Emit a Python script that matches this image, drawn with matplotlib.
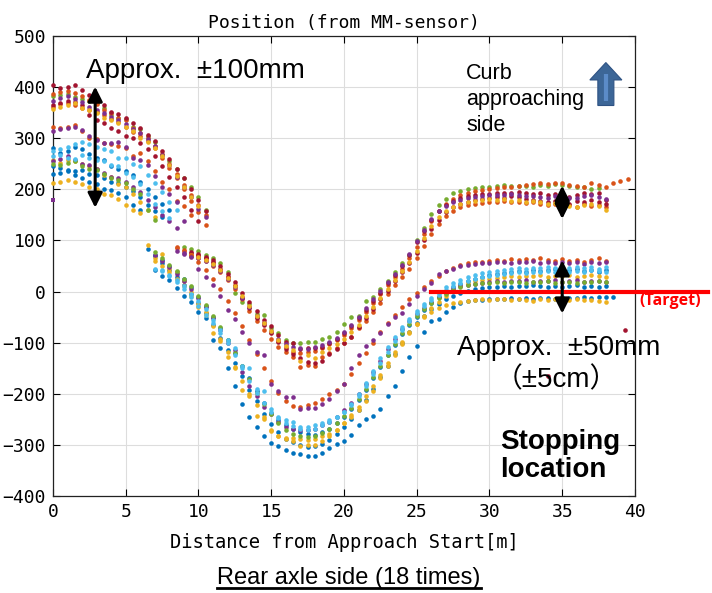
import matplotlib
matplotlib.use("Agg")
import matplotlib.pyplot as plt
import matplotlib.patches as mpatches
from matplotlib.lines import Line2D
import numpy as np

# MATLAB default colour order
BLUE = '#0072BD'
ORANGE = '#D95319'
YELLOW = '#EDB120'
PURPLE = '#7E2F8E'
GREEN = '#77AC30'
CYAN = '#4DBEEE'
DARKRED = '#A2142F'

STEP = 0.5  # sampling step along the approach [m]

# ---- runs ending on the curb side (upper group) ----
# segment a starts at 0 m, segment b starts at the given distance
green_u_a = [382, 384, 386, 380, 376, 372, 368, 360, 345, 340, 338, 322, 318, 305, 292, 268, 255, 240, 222, 205, 185, 160]
green_u_b0 = 9.0
green_u_b = [88, 84, 80, 72, 66, 55, 38, -2, -21, -24, -43, -45, -72, -82, -95, -100, -100, -98, -98, -92,
             -88, -80, -63, -50, -47, -18, -10, 5, 20, 38, 55, 72, 100, 124, 151, 170, 182, 192, 197, 200,
             202, 204, 205, 206, 208, 207, 206, 207, 205, 208, 207, 210, 209, 207, 205, 204, 200, 202]

orange_u1_a = [386, 390, 392, 388, 382, 374, 366, 355, 350, 340, 336, 320, 310, 300, 285, 270, 250, 230, 208, 188, 170, 150]
orange_u1_b0 = 8.5
orange_u1_b = [85, 80, 76, 72, 65, 55, 42, 28, 12, -10, -30, -50, -62, -80, -96, -108, -118, -120, -118, -116,
               -110, -103, -95, -85, -72, -56, -40, -22, -5, 12, 28, 45, 65, 88, 112, 138, 158, 172, 182, 188,
               192, 196, 198, 200, 202, 204, 205, 207, 208, 210, 212, 211, 213, 212, 208, 207, 205, 212, 208, 205,
               213, 216, 220]

orange_u2_a = [362, 366, 368, 365, 360, 356, 352, 345, 338, 332, 322, 312, 304, 295, 280, 262, 242, 222, 200, 178, 155, 130]
orange_u2_b0 = 9.5
orange_u2_b = [70, 66, 60, 50, 38, 22, 5, -15, -38, -58, -75, -92, -108, -118, -128, -148, -143, -145, -129, -120,
               -110, -100, -88, -72, -58, -40, -22, -5, 12, 28, 45, 65, 90, 112, 132, 148, 158, 165, 170, 172,
               174, 175, 176, 178, 176, 175, 174, 176, 172, 170, 172, 168, 170, 166, 172, 168, 170, 165]

darkred_u1_a = [405, 398, 400, 404, 395, 385, 378, 365, 352, 348, 340, 330, 320, 306, 294, 275, 260, 240, 222, 200, 180, 158]
darkred_u1_b0 = 9.5
darkred_u1_b = [78, 74, 68, 62, 50, 34, 18, -2, -20, -38, -55, -68, -85, -98, -100, -112, -110, -110, -108, -100,
                -92, -82, -68, -52, -36, -18, -2, 16, 32, 50, 72, 96, 118, 140, 158, 170, 178, 184, 186, 188,
                190, 191, 192, 193, 192, 194, 192, 190, 192, 188, 190, 186, 185, 188, 192, 190, 193, 180]

darkred_u2_a = [365, 368, 372, 370, 365, 345, 335, 330, 320, 315, 305, 300, 290, 278, 265, 245, 225, 205, 185, 160, 139]
darkred_u2_b0 = 10.0
darkred_u2_b = [70, 66, 58, 44, 28, 10, -12, -32, -52, -66, -82, -98, -112, -122, -130, -138, -140, -135, -122, -112,
                -100, -88, -70, -52, -35, -15, 2, 20, 38, 55, 75, 100, 122, 140, 155, 165, 172, 176, 180, 182,
                184, 185, 184, 186, 185, 182, 180, 178, 176, 178, 175, 172, 178, 175, 180, 176, 172]

purple_u_a = [372, 378, 382, 376, 370, 362, 355, 350, 342, 335, 328, 318, 310, 298, 284, 268, 248, 225, 205, 185, 162, 145]
purple_u_b0 = 9.0
purple_u_b = [74, 70, 66, 60, 52, 40, 24, 8, -12, -30, -48, -62, -78, -92, -102, -108, -110, -112, -108, -104,
              -98, -90, -80, -66, -50, -32, -15, 2, 18, 34, 52, 74, 98, 120, 142, 158, 168, 176, 180, 183,
              185, 186, 188, 189, 188, 190, 188, 186, 187, 185, 184, 186, 182, 184, 183, 186, 188, 185, 182]

yellow_u_a = [358, 362, 365, 368, 360, 356, 350, 340, 335, 330, 322, 315, 300, 292, 280, 265, 248, 226, 205, 185, 168]
yellow_u_b0 = 9.5
yellow_u_b = [72, 68, 62, 54, 42, 26, 10, -8, -28, -48, -62, -78, -95, -106, -115, -135, -125, -130, -118, -110,
              -102, -92, -80, -65, -48, -30, -12, 5, 22, 40, 58, 80, 105, 128, 146, 158, 166, 172, 175, 178,
              180, 182, 180, 182, 178, 180, 176, 178, 175, 172, 174, 170, 168, 165, 170, 172, 168, 160]

# ---- runs ending near the target line (lower group) ----
blue_1_a = [280, 272, 275, 282, 278, 270, 262, 258, 245, 240, 235, 228, 215, 200, 185, 172, 160]
blue_1_b0 = 6.5
blue_1_b = [84, 72, 62, 50, 38, 24, 8, -10, -28, -50, -72, -95, -120, -145, -170, -195, -218, -238, -252, -262,
            -268, -275, -278, -280, -275, -268, -258, -245, -230, -212, -192, -170, -148, -125, -104, -84, -66, -50, -36, -22,
            -10, 0, 8, 15, 20, 25, 28, 32, 35, 36, 38, 40, 38, 42, 40, 42, 44, 40, 42, 45,
            40, 42, 38, 42]

blue_2_a = [245, 242, 238, 235, 238, 230, 228, 222, 215, 212, 205, 196, 185, 170, 158, 145]
blue_2_b0 = 7.0
blue_2_b = [70, 55, 42, 28, 12, -5, -22, -42, -65, -90, -115, -140, -165, -192, -215, -240, -260, -275, -288, -295,
            -300, -305, -303, -298, -290, -278, -265, -250, -232, -212, -190, -168, -145, -122, -100, -80, -62, -48, -35, -24,
            -15, -8, -2, 2, 5, 6, 8, 9, 10, 9, 11, 10, 12, 10, 8, 11, 9, 10, 12, 8,
            10, 9, 11]

blue_3_a = [230, 232, 235, 228, 222, 215, 210, 200, 198, 192, 185, 170, 160]
blue_3_b0 = 7.0
blue_3_b = [42, 30, 22, 6, -8, -21, -40, -51, -94, -110, -150, -184, -221, -246, -266, -282, -296, -302, -311, -315,
            -318, -321, -321, -315, -307, -298, -292, -280, -262, -250, -243, -230, -205, -184, -155, -129, -106, -80, -57, -53,
            -40, -31, -22, -18, -17, -16, -15, -14, -15, -13, -14, -12, -15, -13, -12, -14, -11, -13, -12, -10,
            -12, -11, -10, -10]

orange_l_a = [322, 320, 322, 325, 315, 300, 298, 290, 288, 285, 280, 266, 272, 255, 235, 215, 200, 178, 168, 150]
orange_l_b0 = 8.5
orange_l_b = [88, 82, 72, 58, 42, 25, 5, -18, -42, -68, -95, -122, -150, -175, -198, -215, -224, -225, -222, -218,
              -210, -200, -192, -180, -162, -140, -120, -100, -80, -62, -45, -30, -15, -2, 8, 20, 30, 40, 47, 52,
              55, 57, 58, 60, 62, 60, 63, 62, 64, 61, 65, 62, 60, 64, 60, 62, 58, 62, 66, 60]

yellow_1_a = [258, 252, 258, 255, 250, 245, 240, 228, 225, 210, 205, 190, 175, 160, 145]
yellow_1_b0 = 6.5
yellow_1_b = [92, 65, 74, 45, 38, 20, 0, -31, -40, -82, -96, -129, -150, -192, -205, -243, -250, -270, -282, -287,
              -287, -288, -290, -288, -283, -278, -270, -258, -245, -232, -215, -195, -170, -146, -124, -102, -82, -64, -48, -33,
              -20, -8, 2, 10, 16, 20, 23, 25, 27, 28, 30, 29, 31, 30, 32, 29, 31, 30, 32, 28,
              30, 33, 30, 28]

yellow_2_a = [212, 215, 218, 215, 210, 205, 200, 190, 188, 182, 170, 160, 153]
yellow_2_b0 = 7.0
yellow_2_b = [60, 50, 38, 25, 10, -8, -25, -45, -68, -92, -118, -148, -175, -200, -222, -245, -272, -282, -288, -292,
              -302, -300, -300, -292, -282, -270, -258, -242, -225, -205, -185, -163, -140, -118, -98, -80, -64, -50, -40, -32,
              -26, -22, -20, -18, -16, -15, -16, -14, -15, -17, -14, -16, -18, -15, -16, -14, -18, -16, -15, -17,
              -16, -18, -20]

purple_1_a = [315, 318, 320, 322, 316, 305, 296, 290, 290, 292, 282, 262, 258, 247, 227, 204, 190, 175, 139]
purple_1_b0 = 8.5
purple_1_b = [80, 76, 68, 45, 28, 12, -8, -37, -53, -80, -100, -119, -125, -180, -195, -207, -207, -229, -227, -227,
              -220, -210, -195, -180, -150, -125, -106, -95, -82, -63, -50, -41, -25, -8, 5, 16, 35, 40, 45, 50,
              52, 54, 55, 56, 57, 58, 56, 58, 57, 59, 56, 58, 55, 57, 56, 58, 54, 57, 55, 58]

purple_2_a = [255, 260, 265, 258, 250, 248, 240, 232, 225, 222, 215, 205, 195, 180, 165, 150, 138, 125]
purple_2_b0 = 7.0
purple_2_b = [72, 60, 48, 35, 20, 5, -12, -30, -52, -75, -100, -115, -158, -185, -205, -225, -240, -255, -265, -268,
              -270, -270, -268, -262, -255, -245, -232, -218, -200, -180, -158, -135, -112, -92, -74, -58, -44, -32, -20, -10,
              -2, 5, 10, 13, 15, 17, 18, 20, 19, 21, 20, 22, 19, 21, 20, 22, 18, 20, 22, 19,
              21, 20, 18]

green_l_a = [250, 248, 252, 255, 245, 240, 238, 230, 222, 218, 212, 200, 190, 160, 140]
green_l_b0 = 7.0
green_l_b = [78, 66, 52, 40, 25, 10, -8, -26, -48, -70, -95, -120, -146, -172, -198, -220, -240, -258, -270, -278,
             -283, -285, -282, -276, -268, -257, -244, -228, -210, -190, -168, -146, -124, -102, -82, -64, -48, -34, -22, -12,
             -4, 3, 8, 12, 14, 16, 17, 18, 16, 19, 18, 17, 19, 18, 20, 17, 19, 18, 16, 19,
             18, 20, 18]

cyan_1_a = [275, 278, 283, 288, 292, 288, 282, 278, 275, 262, 262, 250, 245, 228, 212, 195, 175, 160]
cyan_1_b0 = 7.0
cyan_1_b = [45, 40, 32, 22, 10, -4, -18, -35, -55, -75, -95, -110, -145, -150, -190, -195, -230, -245, -252, -255,
            -265, -265, -262, -258, -252, -245, -235, -220, -200, -178, -155, -130, -108, -88, -70, -53, -38, -24, -12, -2,
            8, 16, 22, 28, 32, 36, 39, 41, 43, 44, 46, 45, 47, 46, 48, 47, 49, 46, 48, 47,
            49, 45, 48]

cyan_2_a = [265, 268, 262, 260, 268, 262, 258, 255, 248, 245, 232, 225, 210, 190, 172, 158, 143]
cyan_2_b0 = 7.5
cyan_2_b = [42, 30, 18, 5, -10, -28, -45, -62, -82, -100, -125, -150, -175, -198, -218, -235, -248, -258, -264, -268,
            -270, -268, -262, -255, -246, -236, -222, -205, -185, -162, -140, -118, -96, -76, -58, -42, -28, -16, -6, 3,
            10, 16, 21, 25, 28, 31, 33, 35, 36, 38, 37, 39, 38, 40, 38, 41, 39, 40, 38, 42,
            40, 39]

# stray samples
stray_x = [39.3, 34.0]
stray_y = [-75, -166]
square_x = [0.0]
square_y = [180]

runs = [
    (GREEN, green_u_a, green_u_b0, green_u_b),
    (ORANGE, orange_u1_a, orange_u1_b0, orange_u1_b),
    (ORANGE, orange_u2_a, orange_u2_b0, orange_u2_b),
    (DARKRED, darkred_u1_a, darkred_u1_b0, darkred_u1_b),
    (DARKRED, darkred_u2_a, darkred_u2_b0, darkred_u2_b),
    (PURPLE, purple_u_a, purple_u_b0, purple_u_b),
    (YELLOW, yellow_u_a, yellow_u_b0, yellow_u_b),
    (BLUE, blue_1_a, blue_1_b0, blue_1_b),
    (BLUE, blue_2_a, blue_2_b0, blue_2_b),
    (BLUE, blue_3_a, blue_3_b0, blue_3_b),
    (ORANGE, orange_l_a, orange_l_b0, orange_l_b),
    (YELLOW, yellow_1_a, yellow_1_b0, yellow_1_b),
    (YELLOW, yellow_2_a, yellow_2_b0, yellow_2_b),
    (PURPLE, purple_1_a, purple_1_b0, purple_1_b),
    (PURPLE, purple_2_a, purple_2_b0, purple_2_b),
    (GREEN, green_l_a, green_l_b0, green_l_b),
    (CYAN, cyan_1_a, cyan_1_b0, cyan_1_b),
    (CYAN, cyan_2_a, cyan_2_b0, cyan_2_b),
]

MONO = 'DejaVu Sans Mono'
SANS = 'Liberation Sans'

fig = plt.figure(figsize=(7.12, 5.93), dpi=100)
ax = fig.add_axes([0.0744, 0.1636, 0.8174, 0.7757])

dot = dict(linestyle='none', marker='o', markersize=3.3, markeredgewidth=0, clip_on=False, zorder=3)
for color, ya, xb0, yb in runs:
    xa = np.arange(len(ya)) * STEP
    xb = xb0 + np.arange(len(yb)) * STEP
    ax.plot(xa, ya, color=color, **dot)
    ax.plot(xb, yb, color=color, **dot)
ax.plot(stray_x, stray_y, color=DARKRED, **dot)
ax.plot(square_x, square_y, color=PURPLE, linestyle='none', marker='s',
        markersize=3.5, markeredgewidth=0, clip_on=False, zorder=3)

ax.set_xlim(0, 40)
ax.set_ylim(-400, 500)
ax.set_xticks(np.arange(0, 41, 5))
ax.set_yticks(np.arange(-400, 501, 100))
ax.grid(True, color='#DDDDDD', linewidth=0.8)
ax.set_axisbelow(True)
ax.tick_params(direction='in', top=True, right=True, length=5, width=0.8,
               labelsize=13, pad=5)
for lab in ax.get_xticklabels() + ax.get_yticklabels():
    lab.set_fontfamily(MONO)
for sp in ax.spines.values():
    sp.set_linewidth(0.9)
    sp.set_color('#222222')

ax.set_title('Position (from MM-sensor)', fontfamily=MONO, fontsize=13, pad=6)
ax.set_xlabel('Distance from Approach Start[m]', fontfamily=MONO, fontsize=13.5, labelpad=9)

# target line
ax.plot([26, 45], [0, 0], color='#FF0000', linewidth=3, clip_on=False, zorder=4)
fig.text(0.898, 0.492, '(Target)', color='#FF0000', fontsize=11.5, fontweight='bold',
         fontfamily='Open Sans', va='center', ha='left')

# spread arrows
arrow = dict(arrowstyle='<|-|>', color='black', lw=2.2, mutation_scale=22, shrinkA=0, shrinkB=0)
ax.annotate('', xy=(2.9, 164), xytext=(2.9, 401), arrowprops=arrow, zorder=5)
ax.annotate('', xy=(35, 142), xytext=(35, 207), arrowprops=arrow, zorder=5)
ax.annotate('', xy=(35, -43), xytext=(35, 61), arrowprops=arrow, zorder=5)

ax.text(2.3, 432, 'Approx.  \u00b1100mm', fontfamily=SANS, fontsize=20, va='center', ha='left', zorder=6)
ax.text(27.8, -111, 'Approx.  \u00b150mm', fontfamily=SANS, fontsize=20, va='center', ha='left',
        clip_on=False, zorder=6)
ax.text(34.6, -174, '\uff08\u00b15cm\uff09', fontfamily=[SANS, 'Noto Sans CJK JP'], fontsize=20,
        va='center', ha='center', zorder=6)
ax.text(30.7, -322, 'Stopping\nlocation', fontfamily=SANS, fontsize=20, fontweight='bold',
        va='center', ha='left', linespacing=1.12, zorder=6)
ax.text(28.4, 447, 'Curb\napproaching\nside', fontfamily=SANS, fontsize=15.5, va='top', ha='left',
        linespacing=1.3, zorder=6)

# curb direction block arrow
ax.add_patch(mpatches.FancyArrow(38.0, 364, 0, 84, width=1.1, head_width=2.2, head_length=34,
                                 length_includes_head=True, facecolor='#3C6697', edgecolor='#2E5283',
                                 linewidth=0.8, zorder=6))
ax.plot([38.0, 38.0], [372, 425], color='#5B8BC8', linewidth=3, solid_capstyle='butt', zorder=7)

# underlined caption
cap = fig.text(0.490, 0.025, 'Rear axle side (18 times)', fontfamily=SANS, fontsize=17,
               ha='center', va='center')
fig.canvas.draw()
bb = cap.get_window_extent().transformed(fig.transFigure.inverted())
fig.add_artist(Line2D([bb.x0, bb.x1], [bb.y0 + 0.002, bb.y0 + 0.002], color='black',
                      linewidth=2, transform=fig.transFigure))

fig.savefig('out.png', dpi=100)
